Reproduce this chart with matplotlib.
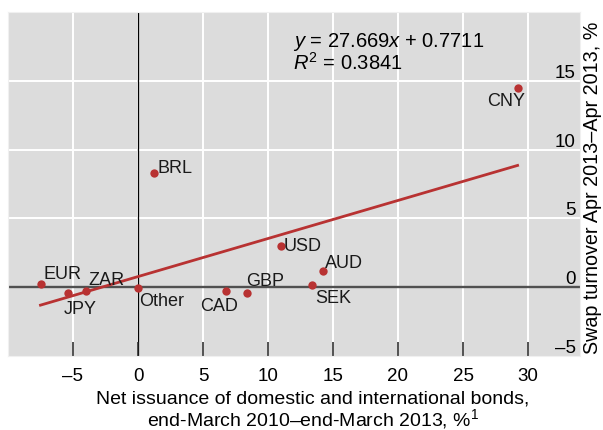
import matplotlib
matplotlib.use('Agg')
import matplotlib.pyplot as plt
import numpy as np

plt.rcParams['font.family'] = ['Liberation Sans', 'DejaVu Sans']
plt.rcParams['mathtext.fontset'] = 'custom'
plt.rcParams['mathtext.rm'] = 'Liberation Sans'
plt.rcParams['mathtext.it'] = 'Liberation Sans:italic'

# currencies: bond issuance (x) vs swap turnover growth (y)
currencies = ['EUR', 'JPY', 'ZAR', 'Other', 'BRL', 'CAD', 'GBP', 'USD', 'SEK', 'AUD', 'CNY']
bond_issuance = [-7.5, -5.4, -4.0, 0.0, 1.2, 6.8, 8.4, 11.0, 13.4, 14.2, 29.2]
swap_turnover = [0.25, -0.45, -0.25, -0.05, 8.3, -0.3, -0.4, 3.0, 0.15, 1.2, 14.5]

# label offsets (points) and alignment per currency
label_pos = {
    'EUR': ((2, 1), 'left', 'bottom'),
    'JPY': ((-3, -5), 'left', 'top'),
    'ZAR': ((2, 2), 'left', 'bottom'),
    'Other': ((1, -3), 'left', 'top'),
    'BRL': ((3, -2), 'left', 'bottom'),
    'CAD': ((-5, -4), 'center', 'top'),
    'GBP': ((-1, 3), 'left', 'bottom'),
    'USD': ((2, 0), 'left', 'center'),
    'SEK': ((2, -3), 'left', 'top'),
    'AUD': ((2, 0), 'left', 'bottom'),
    'CNY': ((-8, -3), 'center', 'top'),
}

slope = 27.669 / 100
intercept = 0.7711
xticks = [-5, 0, 5, 10, 15, 20, 25, 30]
yticks = [-5, 0, 5, 10, 15]

red = '#b83232'

fig = plt.figure(figsize=(6.03, 4.31), dpi=100)
ax = fig.add_axes([8 / 603, 1 - 357 / 431, 572 / 603, 344 / 431])
ax.set_facecolor('#dcdcdc')
ax.set_xlim(-10, 34)
ax.set_ylim(-5, 20)

for x in xticks:
    ax.axvline(x, color='white', lw=1.4, zorder=0)
for y in yticks[2:]:
    ax.axhline(y, color='white', lw=1.4, zorder=0)
ax.axhline(0, color='#505050', lw=1.7, zorder=1)
ax.axvline(0, color='black', lw=0.9, zorder=1)

xs = np.array([min(bond_issuance), max(bond_issuance)])
ax.plot(xs, slope * xs + intercept, color=red, lw=2, zorder=2)
ax.scatter(bond_issuance, swap_turnover, s=36, color=red, zorder=3, linewidths=0)

for name, x, y in zip(currencies, bond_issuance, swap_turnover):
    off, ha, va = label_pos[name]
    ax.annotate(name, (x, y), xytext=off, textcoords='offset points',
                ha=ha, va=va, fontsize=13, color='#1a1a1a')

ax.text(11.9, 17.9, '$y$ = 27.669$x$ + 0.7711', fontsize=14.5, va='center')
ax.text(11.9, 16.35, '$R^2$ = 0.3841', fontsize=14.5, va='center')

ax.set_xticks(xticks)
ax.set_xticklabels([str(v).replace('-', '\u2013') for v in xticks])
ax.tick_params(axis='x', direction='in', length=10, width=1.1, color='#222222',
               labelsize=13.5, pad=8)

ax.yaxis.tick_right()
ax.set_yticks(yticks)
ax.set_yticklabels([str(v).replace('-', '\u2013') for v in yticks])
ax.tick_params(axis='y', length=0, labelsize=13.5, pad=-3)
for lab in ax.get_yticklabels():
    lab.set_ha('right')
    lab.set_va('bottom')

for sp in ax.spines.values():
    sp.set_color('#f0f0f0')
    sp.set_linewidth(0.8)

ax.set_xlabel('Net issuance of domestic and international bonds,\nend-March 2010\u2013end-March 2013, %$^1$',
              fontsize=14, linespacing=0.98)
ax.xaxis.set_label_coords(0.533, -0.096, transform=ax.transAxes)
ax.xaxis.label.set_va('top')

ax.text(1.021, 0.493, 'Swap turnover Apr 2013\u2013Apr 2013, %', transform=ax.transAxes,
        rotation=90, ha='center', va='center', fontsize=14.2)

fig.savefig('out.png', dpi=100)
